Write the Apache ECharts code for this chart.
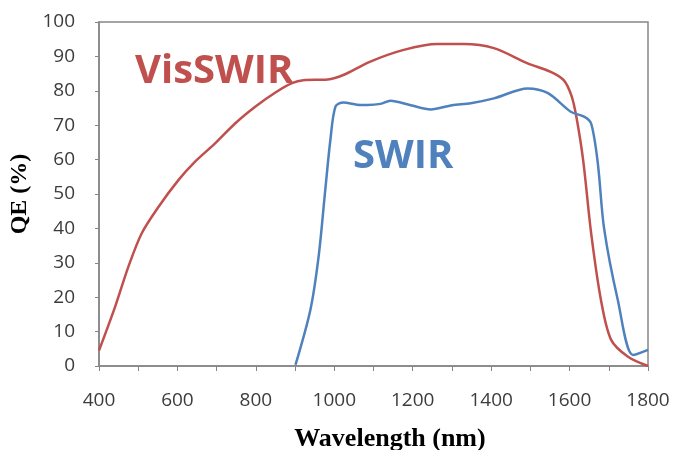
<!DOCTYPE html>
<html>
<head>
<meta charset="utf-8">
<script src="https://cdn.jsdelivr.net/npm/echarts@6/dist/echarts.min.js"></script>
<style>
  html, body { margin: 0; padding: 0; background: #fff; }
  #chart { width: 675px; height: 450px; }
</style>
</head>
<body>
<div id="chart"></div>
<script>
// QE curves: wavelength (nm) and QE (%) per point
const visWavelength = [400, 441, 475, 509, 552, 603, 645, 696, 747, 800, 850, 892, 921, 983, 1023, 1092, 1177, 1263, 1330, 1407, 1493, 1552, 1585, 1605, 1618, 1635, 1655, 1680, 1706, 1749, 1800];
const visQE = [4.5, 17.2, 28.9, 38.6, 46.3, 54.1, 59.4, 64.7, 70.5, 75.5, 79.5, 82.2, 83.1, 83.3, 84.6, 88.5, 91.9, 93.6, 93.6, 92.4, 88, 85.5, 83.1, 78.5, 72, 59.5, 38.6, 19.2, 7.6, 2.7, 0];
const swirWavelength = [901, 939, 960, 977, 990, 1003, 1023, 1067, 1084, 1118, 1143, 1195, 1246, 1300, 1348, 1407, 1493, 1545, 1603, 1637, 1655, 1672, 1688, 1723, 1762, 1800];
const swirQE = [0.3, 16.3, 31.8, 51.2, 65.7, 75.4, 76.6, 75.9, 75.9, 76.2, 77.1, 75.8, 74.6, 75.8, 76.4, 77.8, 80.7, 79.3, 73.9, 72.5, 70.5, 59, 40, 19.2, 3.2, 4.7];
const seriesNames = ["VisSWIR", "SWIR"];
const xTickLabels = [400, 600, 800, 1000, 1200, 1400, 1600, 1800];

const RED = "#c0504d", BLUE = "#4f81bd", AXIS = "#868686";
const pairs = (xs, ys) => xs.map((x, i) => [x, ys[i]]);

const chart = echarts.init(document.getElementById("chart"), null, { renderer: "canvas" });
const labelStyle = { color: "#3c3c3c", fontFamily: "Open Sans", fontSize: 19 };
const titleFont = { color: "#000", fontFamily: "Liberation Serif", fontWeight: "bold" };

chart.setOption({
  animation: false,
  grid: { left: 99, right: 27, top: 22, bottom: 84, outerBoundsMode: "none", show: true, borderColor: AXIS, borderWidth: 1.5 },
  xAxis: {
    type: "value", min: 400, max: 1800, interval: 100,
    name: "Wavelength (nm)", nameLocation: "middle", nameGap: 60,
    nameTextStyle: { ...titleFont, fontSize: 26, padding: [0, 0, 0, 33] },
    axisLine: { lineStyle: { color: AXIS, width: 1.5 } },
    axisTick: { show: true, length: 5, lineStyle: { color: AXIS } },
    axisLabel: { ...labelStyle, margin: 25, formatter: (v) => (xTickLabels.includes(v) ? String(v) : "") },
    splitLine: { show: false },
  },
  yAxis: {
    type: "value", min: 0, max: 100, interval: 10,
    name: "QE (%)", nameLocation: "middle", nameGap: 58,
    nameTextStyle: { ...titleFont, fontSize: 24 },
    axisLine: { show: true, lineStyle: { color: AXIS, width: 1.5 } },
    axisTick: { show: true, length: 4, lineStyle: { color: AXIS } },
    axisLabel: { ...labelStyle, margin: 24 },
    splitLine: { show: false },
  },
  graphic: [
    { type: "text", left: 135, top: 52, style: { text: seriesNames[0], fill: RED, font: "bold 40px 'Open Sans'" } },
    { type: "text", left: 353, top: 137, style: { text: seriesNames[1], fill: BLUE, font: "bold 40px 'Open Sans'" } },
  ],
  series: [
    { name: seriesNames[0], type: "line", data: pairs(visWavelength, visQE), smooth: 0.3, showSymbol: false, lineStyle: { color: RED, width: 2.5 } },
    { name: seriesNames[1], type: "line", data: pairs(swirWavelength, swirQE), smooth: 0.3, showSymbol: false, lineStyle: { color: BLUE, width: 2.5 } },
  ],
});
</script>
</body>
</html>
